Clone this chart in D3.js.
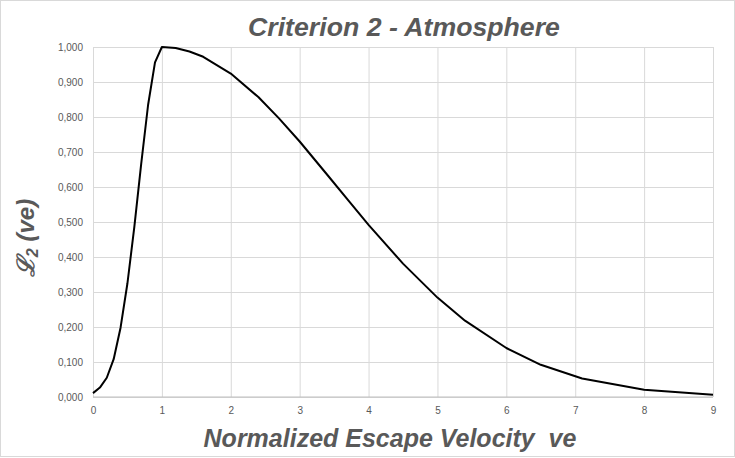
<!DOCTYPE html>
<html>
<head>
<meta charset="utf-8">
<script src="https://cdn.jsdelivr.net/npm/d3@7"></script>
<style>
  body { margin: 0; background: #ffffff; }
  svg { display: block; }
</style>
</head>
<body>
<svg id="chart"></svg>
<script>
// Data
const ve_values = [0, 0.1, 0.2, 0.3, 0.4, 0.5, 0.6, 0.7, 0.8, 0.9, 1.0,
    1.2, 1.4, 1.6, 2.0, 2.4, 2.7, 3.0, 3.4, 3.7, 4.0, 4.5, 5.0, 5.4, 6.0, 6.5, 7.1, 8.0, 9.0];
const l2_values = [0.011, 0.027, 0.055, 0.108, 0.198, 0.325, 0.486, 0.667, 0.835, 0.956, 1.0,
    0.997, 0.987, 0.972, 0.924, 0.857, 0.796, 0.730, 0.635, 0.563, 0.492, 0.381, 0.284, 0.218, 0.140, 0.092, 0.053, 0.021, 0.0065];
const x_ticks = [0, 1, 2, 3, 4, 5, 6, 7, 8, 9];
const y_ticks = [0, 0.1, 0.2, 0.3, 0.4, 0.5, 0.6, 0.7, 0.8, 0.9, 1.0];

const chart_title = "Criterion 2 - Atmosphere";
const x_title = "Normalized Escape Velocity  ve";

// Dimensions of the chart
const width = 735, height = 458;
const margins = { top: 47, right: 22, bottom: 61, left: 93 };
const plot_width = width - margins.left - margins.right;
const plot_height = height - margins.top - margins.bottom;

const svg = d3.select("#chart")
    .attr("width", width)
    .attr("height", height);

// Outer chart border
svg.append("rect")
    .attr("x", 0.5).attr("y", 0.5)
    .attr("width", width - 1).attr("height", height - 2)
    .attr("fill", "#ffffff")
    .attr("stroke", "#d9d9d9");

const g = svg.append("g")
    .attr("transform", `translate(${margins.left},${margins.top})`);

// Scales
const x_scale = d3.scaleLinear().domain([0, 9]).range([0, plot_width]);
const y_scale = d3.scaleLinear().domain([0, 1]).range([plot_height, 0]);

// Horizontal gridlines + y labels
g.append("g")
    .attr("class", "y axis")
    .call(d3.axisLeft(y_scale)
        .tickValues(y_ticks)
        .tickSize(-plot_width)
        .tickPadding(10)
        .tickFormat(d => d3.format(".3f")(d).replace(".", ",")))
    .call(a => a.select(".domain").remove())
    .call(a => a.selectAll("line").attr("stroke", "#d9d9d9"))
    .call(a => a.selectAll("text")
        .attr("fill", "#595959")
        .style("font-family", "'Liberation Sans', Arial, sans-serif")
        .style("font-size", "10px"));

// Vertical gridlines + x labels
g.append("g")
    .attr("class", "x axis")
    .attr("transform", `translate(0,${plot_height})`)
    .call(d3.axisBottom(x_scale)
        .tickValues(x_ticks)
        .tickSize(-plot_height)
        .tickPadding(10)
        .tickFormat(d3.format("d")))
    .call(a => a.select(".domain").remove())
    .call(a => a.selectAll("line").attr("stroke", "#d9d9d9"))
    .call(a => a.selectAll("text")
        .attr("fill", "#595959")
        .style("font-family", "'Liberation Sans', Arial, sans-serif")
        .style("font-size", "10px"));

// Baseline of the x axis
g.append("line")
    .attr("x1", 0).attr("x2", plot_width)
    .attr("y1", y_scale(0)).attr("y2", y_scale(0))
    .attr("stroke", "#bfbfbf");

// The curve
const line = d3.line()
    .x((d, i) => x_scale(ve_values[i]))
    .y(d => y_scale(d))
    .curve(d3.curveLinear);

g.append("path")
    .datum(l2_values)
    .attr("d", line)
    .attr("fill", "none")
    .attr("stroke", "#000000")
    .attr("stroke-width", 2)
    .attr("stroke-linejoin", "round");

// Titles
const title_font = "'Liberation Sans', Arial, sans-serif";

svg.append("text")
    .attr("x", 404)
    .attr("y", 36)
    .attr("text-anchor", "middle")
    .attr("fill", "#595959")
    .style("font-family", title_font)
    .style("font-size", "26.7px")
    .style("font-weight", "bold")
    .style("font-style", "italic")
    .text(chart_title);

svg.append("text")
    .attr("x", 390)
    .attr("y", 447)
    .attr("text-anchor", "middle")
    .attr("fill", "#595959")
    .style("font-family", title_font)
    .style("font-size", "25px")
    .style("font-weight", "bold")
    .style("font-style", "italic")
    .style("white-space", "pre")
    .attr("xml:space", "preserve")
    .text(x_title);

const y_label = svg.append("text")
    .attr("transform", "translate(34,238) rotate(-90)")
    .attr("text-anchor", "middle")
    .attr("fill", "#595959")
    .style("font-family", title_font)
    .style("font-size", "24px")
    .style("font-weight", "bold")
    .style("font-style", "italic");
y_label.append("tspan").text("\u2112");
y_label.append("tspan").attr("font-size", "16px").attr("dy", 4).text("2");
y_label.append("tspan").attr("dy", -4).text(" (ve)");
</script>
</body>
</html>
